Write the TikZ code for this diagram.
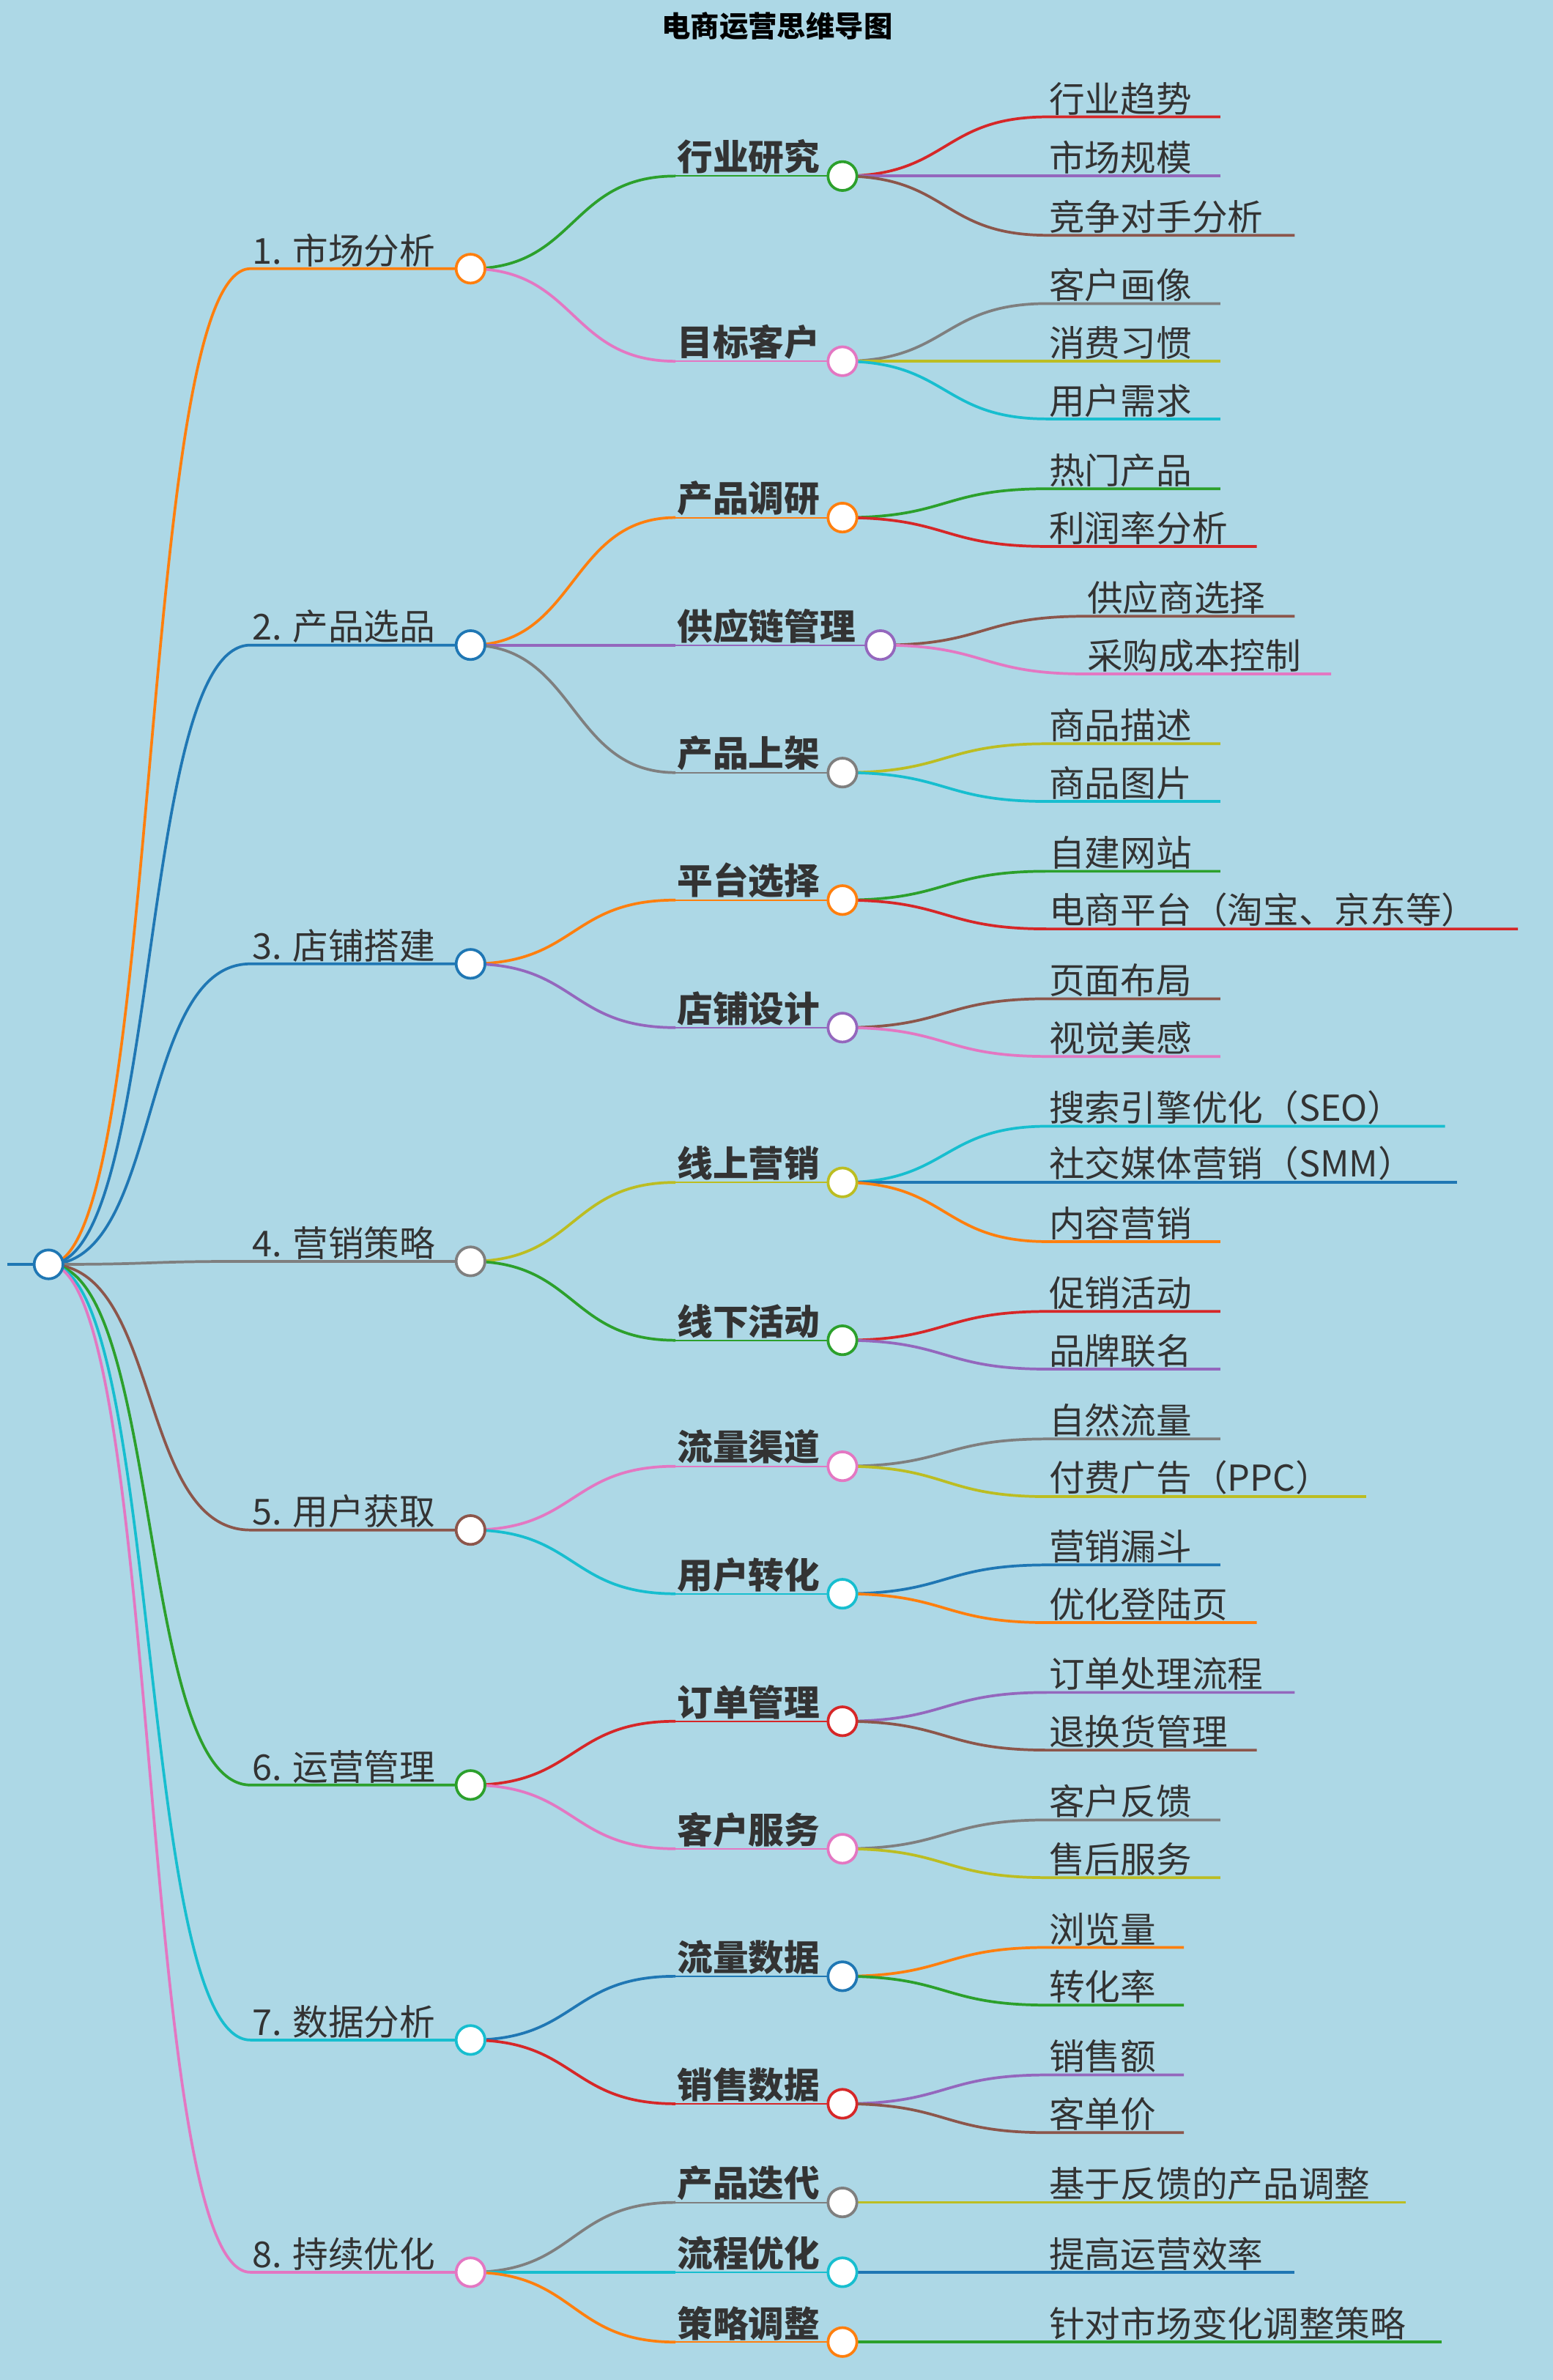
\documentclass[tikz,border=0pt]{standalone}
\usepackage{fontspec}
\setmainfont{Noto Sans CJK SC}
\usetikzlibrary{calc}
\pgfdeclarelayer{bg}\pgfdeclarelayer{back}\pgfsetlayers{back,bg,main}
\definecolor{cor}{HTML}{FF7F0E}\definecolor{cbl}{HTML}{1F77B4}\definecolor{cgr}{HTML}{2CA02C}
\definecolor{cre}{HTML}{D62728}\definecolor{cpu}{HTML}{9467BD}\definecolor{cbr}{HTML}{8C564B}
\definecolor{cpi}{HTML}{E377C2}\definecolor{cgy}{HTML}{7F7F7F}\definecolor{col}{HTML}{BCBD22}
\definecolor{ccy}{HTML}{17BECF}\definecolor{bgc}{HTML}{ADD8E6}\definecolor{txt}{HTML}{333333}
\tikzset{circ/.style={circle,fill=white,line width=1.8pt,minimum size=19pt,inner sep=0pt},
 edge/.style={line width=1.8pt},
 lab/.style={anchor=south west,inner sep=1pt,text=txt,font=\fontsize{23.5}{25}\selectfont},
 labb/.style={lab,font=\fontsize{23.5}{25}\selectfont\bfseries}}
\newcommand\Lone[4]{%
 \node[circ,draw=#3] (#1) at (310,-#2) {};
 \coordinate (#1s) at (165,-#2);
 \node[lab] (#1l) at (#1s) {#4};
 \begin{pgfonlayer}{bg}\draw[edge,#3] (root.center) .. controls +(75,0) and +(-75,0) .. (#1s) -- (#1.center);\end{pgfonlayer}}
\newcommand\Ltwo[6]{%
 \node[circ,draw=#4] (#1) at (#6,-#3) {};
 \coordinate (#1s) at (445,-#3);
 \node[labb] (#1l) at (#1s) {#5};
 \begin{pgfonlayer}{bg}\draw[edge,#4] (#2.center) .. controls +(70,0) and +(-70,0) .. (#1s);
 \draw[#4,line width=1pt] (#1s) -- (#1.center);\end{pgfonlayer}}
\newcommand\Lthree[7]{%
 \coordinate (#1s) at (#7,-#3);
 \coordinate (#1e) at (#6,-#3);
 \node[lab] (#1l) at (#1s) {#5};
 \begin{pgfonlayer}{bg}\draw[edge,#4] (#2.center) .. controls +(70,0) and +(-70,0) .. (#1s) -- (#1e);\end{pgfonlayer}}
\begin{document}
\begin{tikzpicture}[x=1pt,y=1pt]
\begin{pgfonlayer}{back}\fill[bgc] (0,0) rectangle (1023,-1568);\end{pgfonlayer}
\useasboundingbox (0,0) rectangle (1023,-1568);
\node[text=black,font=\fontsize{19}{21}\selectfont\bfseries] (title) at (512,-17) {电商运营思维导图};
\node[circ,draw=cbl] (root) at (32,-833) {};
\coordinate (rs) at (5,-833);
\begin{pgfonlayer}{bg}\draw[edge,cbl] (rs) -- (root.center);\end{pgfonlayer}
\Lone{a}{177}{cor}{1. 市场分析}
\Lone{b}{425}{cbl}{2. 产品选品}
\Lone{c}{635}{cbl}{3. 店铺搭建}
\Lone{d}{831}{cgy}{4. 营销策略}
\Lone{e}{1008}{cbr}{5. 用户获取}
\Lone{f}{1176}{cgr}{6. 运营管理}
\Lone{g}{1344}{ccy}{7. 数据分析}
\Lone{h}{1497}{cpi}{8. 持续优化}
\Ltwo{a1}{a}{116}{cgr}{行业研究}{555}
\Ltwo{a2}{a}{238}{cpi}{目标客户}{555}
\Ltwo{b1}{b}{341}{cor}{产品调研}{555}
\Ltwo{b2}{b}{425}{cpu}{供应链管理}{580}
\Ltwo{b3}{b}{509}{cgy}{产品上架}{555}
\Ltwo{c1}{c}{593}{cor}{平台选择}{555}
\Ltwo{c2}{c}{677}{cpu}{店铺设计}{555}
\Ltwo{d1}{d}{779}{col}{线上营销}{555}
\Ltwo{d2}{d}{883}{cgr}{线下活动}{555}
\Ltwo{e1}{e}{966}{cpi}{流量渠道}{555}
\Ltwo{e2}{e}{1050}{ccy}{用户转化}{555}
\Ltwo{f1}{f}{1134}{cre}{订单管理}{555}
\Ltwo{f2}{f}{1218}{cpi}{客户服务}{555}
\Ltwo{g1}{g}{1302}{cbl}{流量数据}{555}
\Ltwo{g2}{g}{1386}{cre}{销售数据}{555}
\Ltwo{h1}{h}{1451}{cgy}{产品迭代}{555}
\Ltwo{h2}{h}{1497}{ccy}{流程优化}{555}
\Ltwo{h3}{h}{1543}{cor}{策略调整}{555}
\Lthree{a11}{a1}{77}{cre}{行业趋势}{804}{690}
\Lthree{a12}{a1}{116}{cpu}{市场规模}{804}{690}
\Lthree{a13}{a1}{155}{cbr}{竞争对手分析}{853}{690}
\Lthree{a21}{a2}{200}{cgy}{客户画像}{804}{690}
\Lthree{a22}{a2}{238}{col}{消费习惯}{804}{690}
\Lthree{a23}{a2}{276}{ccy}{用户需求}{804}{690}
\Lthree{b11}{b1}{322}{cgr}{热门产品}{804}{690}
\Lthree{b12}{b1}{360}{cre}{利润率分析}{828}{690}
\Lthree{b21}{b2}{406}{cbr}{供应商选择}{853}{715}
\Lthree{b22}{b2}{444}{cpi}{采购成本控制}{877}{715}
\Lthree{b31}{b3}{490}{col}{商品描述}{804}{690}
\Lthree{b32}{b3}{528}{ccy}{商品图片}{804}{690}
\Lthree{c11}{c1}{574}{cgr}{自建网站}{804}{690}
\Lthree{c12}{c1}{612}{cre}{电商平台（淘宝、京东等）}{1000}{690}
\Lthree{c21}{c2}{658}{cbr}{页面布局}{804}{690}
\Lthree{c22}{c2}{696}{cpi}{视觉美感}{804}{690}
\Lthree{d11}{d1}{742}{ccy}{搜索引擎优化（SEO）}{952}{690}
\Lthree{d12}{d1}{779}{cbl}{社交媒体营销（SMM）}{960}{690}
\Lthree{d13}{d1}{818}{cor}{内容营销}{804}{690}
\Lthree{d21}{d2}{864}{cre}{促销活动}{804}{690}
\Lthree{d22}{d2}{902}{cpu}{品牌联名}{804}{690}
\Lthree{e11}{e1}{948}{cgy}{自然流量}{804}{690}
\Lthree{e12}{e1}{986}{col}{付费广告（PPC）}{900}{690}
\Lthree{e21}{e2}{1031}{cbl}{营销漏斗}{804}{690}
\Lthree{e22}{e2}{1069}{cor}{优化登陆页}{828}{690}
\Lthree{f11}{f1}{1115}{cpu}{订单处理流程}{853}{690}
\Lthree{f12}{f1}{1153}{cbr}{退换货管理}{828}{690}
\Lthree{f21}{f2}{1199}{cgy}{客户反馈}{804}{690}
\Lthree{f22}{f2}{1237}{col}{售后服务}{804}{690}
\Lthree{g11}{g1}{1283}{cor}{浏览量}{780}{690}
\Lthree{g12}{g1}{1321}{cgr}{转化率}{780}{690}
\Lthree{g21}{g2}{1367}{cpu}{销售额}{780}{690}
\Lthree{g22}{g2}{1405}{cbr}{客单价}{780}{690}
\Lthree{h11}{h1}{1451}{col}{基于反馈的产品调整}{926}{690}
\Lthree{h21}{h2}{1497}{cbl}{提高运营效率}{853}{690}
\Lthree{h31}{h3}{1543}{cgr}{针对市场变化调整策略}{950}{690}
\end{tikzpicture}
\end{document}
